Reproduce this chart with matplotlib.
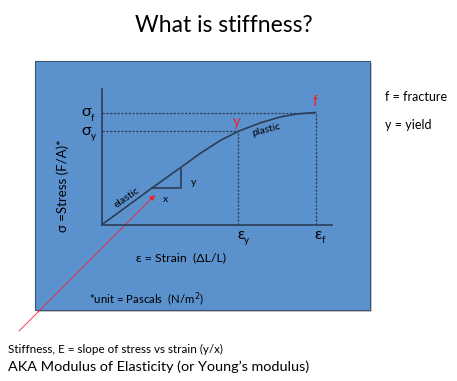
import matplotlib
matplotlib.use('Agg')
from matplotlib import pyplot as plt
from matplotlib.patches import Rectangle

plt.rcParams['font.family'] = ['Lato', 'DejaVu Sans']

# stress-strain curve (strain, stress in units of eps_f / sigma_f)
strain = [0.0, 0.236, 0.367, 0.46, 0.554, 0.638, 0.741, 0.834, 0.914, 1.0]
stress = [0.0, 0.329, 0.507, 0.635, 0.75, 0.832, 0.907, 0.96, 0.987, 1.0]
eps_y, eps_f = 0.638, 1.0
sig_y, sig_f = 0.832, 1.0
# slope triangle
tri_x = [0.236, 0.371, 0.371]
tri_y = [0.329, 0.329, 0.498]

blue = '#5b91cd'
dark = '#2c3e55'
red = '#f0202a'

fig = plt.figure(figsize=(4.57, 3.81), dpi=100)

# slide background in pixel coordinates
bg = fig.add_axes([0, 0, 1, 1])
bg.set_xlim(0, 457)
bg.set_ylim(381, 0)
bg.axis('off')
bg.add_patch(Rectangle((37, 63), 335, 249, facecolor='#c8c8c8', edgecolor='none'))
bg.add_patch(Rectangle((35, 61), 335, 249, facecolor=blue, edgecolor='#3d5573', lw=0.8))

bg.text(224, 25, 'What is stiffness?', fontsize=16.5, ha='center', va='center')
bg.text(63, 186, 'σ =Stress (F/A)*', fontsize=9.5, rotation=90, ha='center', va='center')
bg.text(136, 258, 'ε = Strain  (ΔL/L)', fontsize=8.9, ha='left', va='center')
bg.text(89, 299, '*unit = Pascals  (N/m$^2$)', fontsize=8.2, ha='left', va='center')
bg.text(8, 349, 'Stiffness, E = slope of stress vs strain (y/x)', fontsize=8.4, ha='left', va='center')
bg.text(8, 367, 'AKA Modulus of Elasticity (or Young\u2019s modulus)', fontsize=10.4, ha='left', va='center')
bg.text(385, 97, 'f = fracture', fontsize=9, ha='left', va='center')
bg.text(385, 125, 'y = yield', fontsize=9, ha='left', va='center')
bg.annotate('', xy=(157, 193), xytext=(17, 333),
            arrowprops=dict(arrowstyle='-|>', color=red, lw=0.6, mutation_scale=8))

# the stress-strain axes
ax = fig.add_axes([101.5 / 457, 156 / 381, 230.5 / 457, 136 / 381])
ax.patch.set_alpha(0)
ax.set_xlim(0, 230.5 / 214)
ax.set_ylim(0, 136 / 112.5)
for s in ['top', 'right']:
    ax.spines[s].set_visible(False)
for s in ['left', 'bottom']:
    ax.spines[s].set_color(dark)
    ax.spines[s].set_linewidth(1.2)
ax.set_xticks([])
ax.set_yticks([])

ax.plot(strain, stress, color=dark, lw=1.2)
ax.plot(tri_x, tri_y, color=dark, lw=1.2)

dash = (0, (1.8, 1.2))
ax.plot([0, eps_f], [sig_f, sig_f], color=dark, lw=0.9, ls=dash)
ax.plot([0, eps_y], [sig_y, sig_y], color=dark, lw=0.9, ls=dash)
ax.plot([eps_y, eps_y], [0, sig_y], color=dark, lw=0.9, ls=dash)
ax.plot([eps_f, eps_f], [0, sig_f], color=dark, lw=0.9, ls=dash)


def sub_label(x, y, main, sub, dx):
    ax.annotate(main, (x, y), fontsize=11.5, ha='center', va='center',
                annotation_clip=False)
    ax.annotate(sub, (x, y), xytext=(dx, -4), textcoords='offset points',
                fontsize=7, ha='left', va='center', annotation_clip=False)


sub_label(-0.072, sig_f, 'σ', 'f', 3.5)
sub_label(-0.072, sig_y, 'σ', 'y', 3.5)
sub_label(eps_y + 0.012, -0.09, 'ε', 'y', 2.5)
sub_label(eps_f + 0.012, -0.09, 'ε', 'f', 2.5)

ax.text(eps_y - 0.005, sig_y + 0.08, 'y', color=red, fontsize=10.5, ha='center', va='center')
ax.text(eps_f, sig_f + 0.09, 'f', color=red, fontsize=10.5, ha='center', va='center')
ax.text(0.77, 0.85, 'plastic', fontsize=7.5, rotation=15, ha='center', va='center')
ax.text(0.12, 0.24, 'elastic', fontsize=7.5, rotation=35, ha='center', va='center')
ax.text(0.428, 0.38, 'y', fontsize=7.5, ha='center', va='center')
ax.text(0.30, 0.23, 'x', fontsize=7.5, ha='center', va='center')

plt.savefig('out.png', dpi=100)
